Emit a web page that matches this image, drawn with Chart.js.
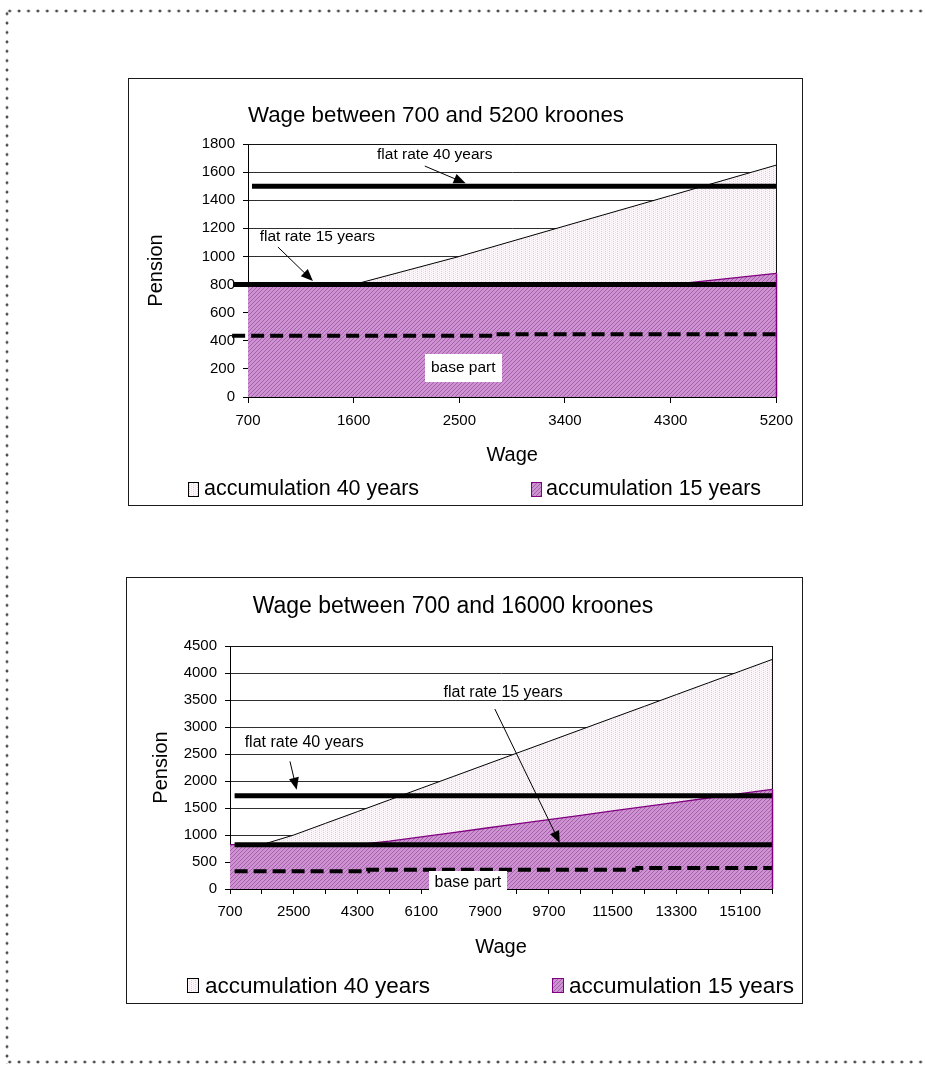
<!DOCTYPE html>
<html>
<head>
<meta charset="utf-8">
<title>Pension by wage</title>
<script src="https://cdn.jsdelivr.net/npm/chart.js@4.4.1/dist/chart.umd.min.js"></script>
<style>
  html, body { margin: 0; padding: 0; background: #fff; }
  body { width: 925px; height: 1068px; position: relative; overflow: hidden; }
  .dots-h { position: absolute; height: 4px;
    background-image: radial-gradient(circle at center, #4a4a4a 1.15px, rgba(74,74,74,0) 1.75px);
    background-size: 9.4px 4px; background-repeat: repeat-x; }
  .dots-v { position: absolute; width: 4px;
    background-image: radial-gradient(circle at center, #4a4a4a 1.15px, rgba(74,74,74,0) 1.75px);
    background-size: 4px 9.4px; background-repeat: repeat-y; }
  .frame { position: absolute; border: 1px solid #1a1a1a; background: #fff; }
  .frame canvas { display: block; }
</style>
</head>
<body>
<div class="dots-h" style="left:5px; top:9px; width:920px;"></div>
<div class="dots-v" style="left:5px; top:9px; height:1055px;"></div>
<div class="dots-h" style="left:5px; top:1060px; width:920px;"></div>

<div class="frame" style="left:128px; top:78px; width:673px; height:426px;">
  <canvas id="chartLow" width="673" height="426"></canvas>
</div>
<div class="frame" style="left:126px; top:577px; width:675px; height:425px;">
  <canvas id="chartHigh" width="675" height="425"></canvas>
</div>

<script>
const FONT = '"Liberation Sans", Arial, Helvetica, sans-serif';
const seriesNames = ['accumulation 40 years', 'accumulation 15 years'];

// ---- wage between 700 and 5200 kroones ----
const wagesLow = [700, 1600, 2500, 3400, 4300, 5200];
const acc40Low = [800, 800, 1000, 1217, 1433, 1650];
const acc15Low = [800, 800, 800, 800, 800, 880];
const flat40WagesLow = [734, 5200];
const flat40Low = [1500, 1500];
const flat15WagesLow = [575, 5200];
const flat15Low = [800, 800];
const baseWagesLow = [565, 2800, 5200];
const baseLow = [435, 446, 446];
const xTicksLow = [700, 1600, 2500, 3400, 4300, 5200];
const xLabelsLow = [700, 1600, 2500, 3400, 4300, 5200];
const yTicksLow = [0, 200, 400, 600, 800, 1000, 1200, 1400, 1600, 1800];

// ---- wage between 700 and 16000 kroones ----
const wagesHigh = [700, 1600, 2500, 3400, 4300, 5200, 6100, 7000, 7900, 8800, 9700, 10600, 11500, 12400, 13300, 14200, 15100, 16000];
const acc40High = [820, 820, 1000, 1217, 1433, 1650, 1867, 2083, 2300, 2517, 2733, 2950, 3167, 3383, 3600, 3817, 4033, 4250];
const acc15High = [820, 820, 820, 820, 820, 885, 965, 1045, 1125, 1205, 1285, 1365, 1445, 1525, 1605, 1685, 1765, 1845];
const flat40WagesHigh = [830, 16000];
const flat40High = [1727, 1727];
const flat15WagesHigh = [830, 16000];
const flat15High = [820, 820];
const baseWagesHigh = [830, 4600, 12200, 16000];
const baseHigh = [327, 358, 389, 389];
const xTicksHigh = [700, 1600, 2500, 3400, 4300, 5200, 6100, 7000, 7900, 8800, 9700, 10600, 11500, 12400, 13300, 14200, 15100, 16000];
const xLabelsHigh = [700, 2500, 4300, 6100, 7900, 9700, 11500, 13300, 15100];
const yTicksHigh = [0, 500, 1000, 1500, 2000, 2500, 3000, 3500, 4000, 4500];

const points = (xs, ys) => xs.map((x, i) => ({ x: x, y: ys[i] }));

// fill textures: light pink dots and purple diagonal hatching
function makeTexture(ctx, base, marks) {
  const tile = document.createElement('canvas');
  tile.width = 4; tile.height = 4;
  const g = tile.getContext('2d');
  g.fillStyle = base; g.fillRect(0, 0, 4, 4);
  marks.forEach(([x, y, c]) => { g.fillStyle = c; g.fillRect(x, y, 1, 1); });
  return ctx.createPattern(tile, 'repeat');
}
function textures(ctx) {
  const pink = makeTexture(ctx, '#fcf5f9', [
    [0, 0, '#eac3d8'], [0, 2, '#eac3d8'], [2, 1, '#f3dbe8'], [2, 3, '#f3dbe8']
  ]);
  const purple = makeTexture(ctx, '#cd92d0', [
    [0, 3, '#a85eae'], [1, 2, '#a85eae'], [2, 1, '#a85eae'], [3, 0, '#a85eae']
  ]);
  return { pink, purple };
}

function drawArrow(ctx, x1, y1, x2, y2) {
  const ang = Math.atan2(y2 - y1, x2 - x1);
  const L = 12, W = 5;
  const c = Math.cos(ang), s = Math.sin(ang);
  ctx.beginPath();
  ctx.moveTo(x1, y1);
  ctx.lineTo(x2 - L * 0.7 * c, y2 - L * 0.7 * s);
  ctx.stroke();
  ctx.beginPath();
  ctx.moveTo(x2, y2);
  ctx.lineTo(x2 - L * c + W * s, y2 - L * s - W * c);
  ctx.lineTo(x2 - L * c - W * s, y2 - L * s + W * c);
  ctx.closePath();
  ctx.fill();
}

// chart furniture: plot frame, notes, arrows, title and legend
const decor = {
  id: 'decor',
  afterDatasetsDraw(chart, args, o) {
    const { ctx, chartArea: a, scales: { x, y } } = chart;
    ctx.save();
    // top and right edges of the plot area
    ctx.lineWidth = 1;
    ctx.strokeStyle = '#111';
    const ty = Math.round(a.top) + 0.5;
    ctx.beginPath(); ctx.moveTo(a.left, ty); ctx.lineTo(a.right, ty); ctx.stroke();
    const m15 = chart.getDatasetMeta(1).data;
    const y15 = m15[m15.length - 1].y;
    const rx = Math.round(a.right) + 0.5;
    ctx.beginPath(); ctx.moveTo(rx, a.top); ctx.lineTo(rx, y15); ctx.stroke();
    ctx.strokeStyle = '#800080';
    ctx.lineWidth = 1.5;
    ctx.beginPath(); ctx.moveTo(rx, y15); ctx.lineTo(rx, a.bottom); ctx.stroke();

    // "base part" label on a white box
    const b = o.baseLabel;
    const bx = x.getPixelForValue(b.at[0]), by = y.getPixelForValue(b.at[1]);
    ctx.fillStyle = '#fff';
    ctx.fillRect(Math.round(bx - b.box[0] / 2), Math.round(by - b.box[1] / 2), b.box[0], b.box[1]);
    ctx.fillStyle = '#000';
    ctx.font = `${o.noteSize}px ${FONT}`;
    ctx.textAlign = 'center';
    ctx.textBaseline = 'middle';
    ctx.fillText(b.text, bx, by);

    // arrow notes for the flat rates
    ctx.strokeStyle = '#000';
    ctx.lineWidth = 1;
    o.notes.forEach(n => {
      ctx.fillText(n.text, x.getPixelForValue(n.at[0]), y.getPixelForValue(n.at[1]));
      drawArrow(ctx,
        x.getPixelForValue(n.from[0]), y.getPixelForValue(n.from[1]),
        x.getPixelForValue(n.to[0]), y.getPixelForValue(n.to[1]));
    });
    ctx.restore();
  },
  afterDraw(chart, args, o) {
    const { ctx } = chart;
    ctx.save();
    ctx.fillStyle = '#000';
    ctx.font = `${o.title.size}px ${FONT}`;
    ctx.textAlign = 'center';
    ctx.textBaseline = 'alphabetic';
    ctx.fillText(o.title.text, o.title.x, o.title.y);

    const lg = o.legend;
    ctx.font = `${lg.size}px ${FONT}`;
    ctx.textAlign = 'left';
    lg.items.forEach((it, i) => {
      const ds = chart.data.datasets[i];
      ctx.fillStyle = ds.backgroundColor;
      ctx.fillRect(it.box, lg.boxTop, lg.boxW, lg.boxH);
      ctx.strokeStyle = ds.borderColor;
      ctx.lineWidth = 1;
      ctx.strokeRect(it.box + 0.5, lg.boxTop + 0.5, lg.boxW - 1, lg.boxH - 1);
      ctx.fillStyle = '#000';
      ctx.fillText(ds.label, it.text, lg.baseline);
    });
    ctx.restore();
  }
};

function buildChart(canvasId, d, L) {
  const canvas = document.getElementById(canvasId);
  const ctx = canvas.getContext('2d');
  const tx = textures(ctx);
  const labelSet = new Set(d.xLabels);
  return new Chart(ctx, {
    type: 'line',
    data: {
      datasets: [
        { label: seriesNames[0], data: points(d.wages, d.acc40), borderColor: '#000', borderWidth: 1,
          backgroundColor: tx.pink, fill: 'origin', pointRadius: 0, tension: 0, order: 3 },
        { label: seriesNames[1], data: points(d.wages, d.acc15), borderColor: '#800080', borderWidth: 1.3,
          backgroundColor: tx.purple, fill: 'origin', pointRadius: 0, tension: 0, order: 2 },
        { label: 'flat rate 40 years', data: points(d.flat40Wages, d.flat40), borderColor: '#000', borderWidth: 5,
          borderCapStyle: 'butt', fill: false, pointRadius: 0, clip: false, order: 1 },
        { label: 'flat rate 15 years', data: points(d.flat15Wages, d.flat15), borderColor: '#000', borderWidth: 5,
          borderCapStyle: 'butt', fill: false, pointRadius: 0, clip: false, order: 1 },
        { label: 'base part', data: points(d.baseWages, d.base), borderColor: '#000', borderWidth: 4,
          borderDash: [13, 6], borderCapStyle: 'butt', stepped: true, fill: false, pointRadius: 0,
          clip: false, order: 0 }
      ]
    },
    options: {
      responsive: false,
      maintainAspectRatio: false,
      animation: false,
      events: [],
      layout: { padding: L.padding },
      plugins: {
        legend: { display: false },
        title: { display: false },
        tooltip: { enabled: false },
        decor: {
          title: L.title,
          legend: L.legend,
          notes: L.notes,
          baseLabel: L.baseLabel,
          noteSize: L.noteSize
        }
      },
      scales: {
        x: {
          type: 'linear',
          min: d.xTicks[0],
          max: d.xTicks[d.xTicks.length - 1],
          afterBuildTicks: s => { s.ticks = d.xTicks.map(v => ({ value: v })); },
          afterFit: s => { s.height = L.xHeight; },
          ticks: {
            autoSkip: false, maxRotation: 0, minRotation: 0, padding: 9, color: '#000',
            font: { family: FONT, size: 15 },
            callback: v => labelSet.has(v) ? String(v) : ''
          },
          grid: { drawOnChartArea: false, drawTicks: true, tickLength: L.xTick, tickColor: '#000', color: '#000' },
          border: { display: true, color: '#000', width: 1 },
          title: { display: true, text: 'Wage', color: '#000', font: { family: FONT, size: 20 },
                   padding: { top: 0, bottom: 7 } }
        },
        y: {
          type: 'linear',
          min: d.yTicks[0],
          max: d.yTicks[d.yTicks.length - 1],
          afterBuildTicks: s => { s.ticks = d.yTicks.map(v => ({ value: v })); },
          afterFit: s => { s.width = L.yWidth; },
          ticks: { padding: 8, color: '#000', font: { family: FONT, size: 15 }, callback: v => String(v) },
          grid: { color: '#2e2e2e', lineWidth: 1, drawTicks: true, tickLength: 5, tickColor: '#000' },
          border: { display: true, color: '#000', width: 1 },
          title: { display: true, text: 'Pension', color: '#000', font: { family: FONT, size: 20 },
                   padding: { top: L.pensionPad, bottom: 0 } }
        }
      }
    },
    plugins: [decor]
  });
}

buildChart('chartLow', {
  wages: wagesLow, acc40: acc40Low, acc15: acc15Low,
  flat40Wages: flat40WagesLow, flat40: flat40Low,
  flat15Wages: flat15WagesLow, flat15: flat15Low,
  baseWages: baseWagesLow, base: baseLow,
  xTicks: xTicksLow, xLabels: xLabelsLow, yTicks: yTicksLow
}, {
  padding: { top: 65, right: 25, bottom: 31, left: 0 },
  yWidth: 119, xHeight: 77, xTick: 6, pensionPad: 15,
  title: { text: 'Wage between 700 and 5200 kroones', size: 22.3, x: 307, y: 43 },
  legend: { size: 21.5, boxTop: 403, boxW: 11, boxH: 15, baseline: 416,
            items: [{ box: 59, text: 75 }, { box: 402, text: 417 }] },
  noteSize: 15.5,
  notes: [
    { text: 'flat rate 40 years', at: [2291, 1722], from: [2206, 1643], to: [2554, 1520] },
    { text: 'flat rate 15 years', at: [1291, 1138], from: [955, 1067], to: [1253, 825] }
  ],
  baseLabel: { text: 'base part', at: [2533, 206], box: [77, 28] }
});

buildChart('chartHigh', {
  wages: wagesHigh, acc40: acc40High, acc15: acc15High,
  flat40Wages: flat40WagesHigh, flat40: flat40High,
  flat15Wages: flat15WagesHigh, flat15: flat15High,
  baseWages: baseWagesHigh, base: baseHigh,
  xTicks: xTicksHigh, xLabels: xLabelsHigh, yTicks: yTicksHigh
}, {
  padding: { top: 68, right: 30, bottom: 37, left: 0 },
  yWidth: 103, xHeight: 77, xTick: 5, pensionPad: 22,
  title: { text: 'Wage between 700 and 16000 kroones', size: 23, x: 326, y: 35 },
  legend: { size: 22.5, boxTop: 400, boxW: 12, boxH: 15, baseline: 415,
            items: [{ box: 60, text: 78 }, { box: 425, text: 442 }] },
  noteSize: 16,
  notes: [
    { text: 'flat rate 40 years', at: [2796, 2704], from: [2393, 2363], to: [2582, 1839] },
    { text: 'flat rate 15 years', at: [8411, 3630], from: [8177, 3333], to: [10010, 852] }
  ],
  baseLabel: { text: 'base part', at: [7415, 118], box: [78, 23] }
});
</script>
</body>
</html>
